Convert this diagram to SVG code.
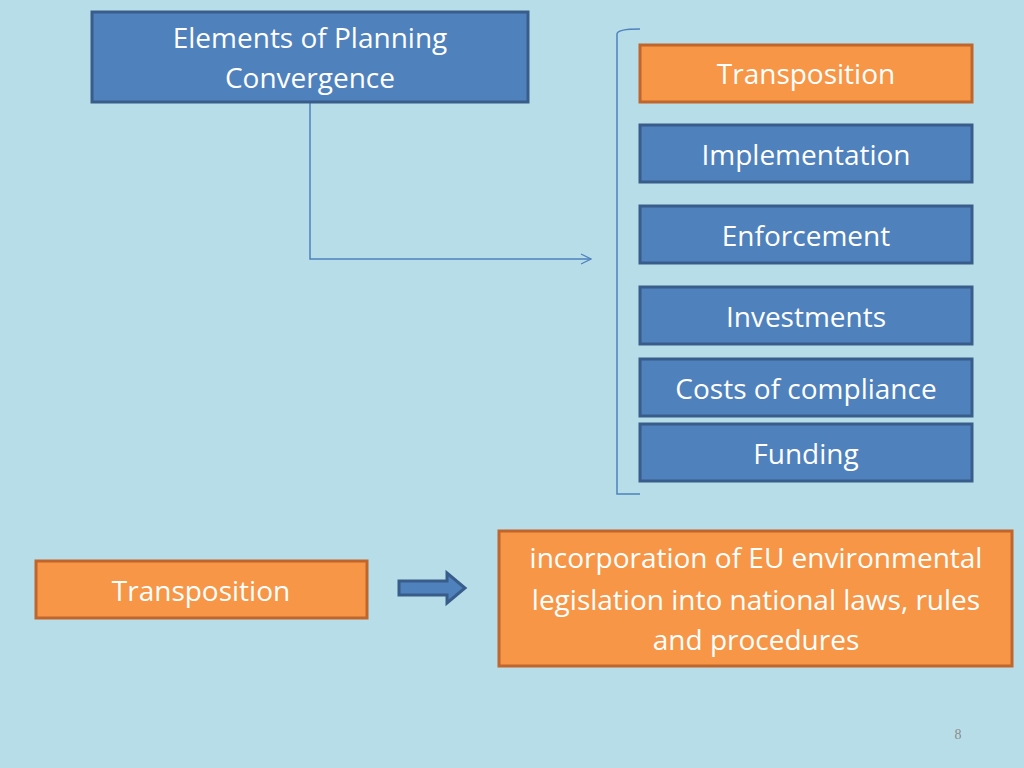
<svg xmlns="http://www.w3.org/2000/svg" width="1024" height="768" viewBox="0 0 1024 768">
<defs>
<style>
.b{fill:#4f81bd;stroke:#385d8a;stroke-width:3}
.o{fill:#f79646;stroke:#c0652b;stroke-width:3}
text{font-family:"Open Sans","Noto Sans",sans-serif;font-size:28px;fill:#fff;text-anchor:middle}
</style>
<marker id="a" markerWidth="12" markerHeight="12" refX="11" refY="6" orient="auto" markerUnits="userSpaceOnUse"><path d="M1,1 L11,6 L1,11" fill="none" stroke="#4f81bd" stroke-width="1.2"/></marker>
</defs>
<rect width="1024" height="768" fill="#b7dee8"/>
<g id="connectors" fill="none" stroke="#4f81bd" stroke-width="1.5">
<path d="M310,103 V259 H591" marker-end="url(#a)"/>
<path d="M640,29 Q617,29 617,34 V494 H640"/>
<path d="M399,581 H447 V573 L465,588 L447,603 V595 H399 Z" fill="#4f81bd" stroke="#385d8a" stroke-width="3"/>
</g>
<g id="n1"><rect class="b" x="92" y="12" width="436" height="90"/><text x="310" y="48">Elements of Planning</text><text x="310" y="88">Convergence</text></g>
<g id="n2"><rect class="o" x="640" y="45" width="332" height="57"/><text x="806" y="84">Transposition</text></g>
<g id="n3"><rect class="b" x="640" y="125" width="332" height="57"/><text x="806" y="165">Implementation</text></g>
<g id="n4"><rect class="b" x="640" y="206" width="332" height="57"/><text x="806" y="246">Enforcement</text></g>
<g id="n5"><rect class="b" x="640" y="287" width="332" height="57"/><text x="806" y="327">Investments</text></g>
<g id="n6"><rect class="b" x="640" y="359" width="332" height="57"/><text x="806" y="399">Costs of compliance</text></g>
<g id="n7"><rect class="b" x="640" y="424" width="332" height="57"/><text x="806" y="464">Funding</text></g>
<g id="n8"><rect class="o" x="36" y="561" width="331" height="57"/><text x="201" y="601">Transposition</text></g>
<g id="n9"><rect class="o" x="499" y="531" width="513" height="135"/><text x="756" y="568">incorporation of EU environmental</text><text x="756" y="610">legislation into national laws, rules</text><text x="756" y="650">and procedures</text></g>
<text x="958" y="739" style="font-family:'Liberation Serif',serif;font-size:14px;fill:#8c8c8c">8</text>
</svg>
